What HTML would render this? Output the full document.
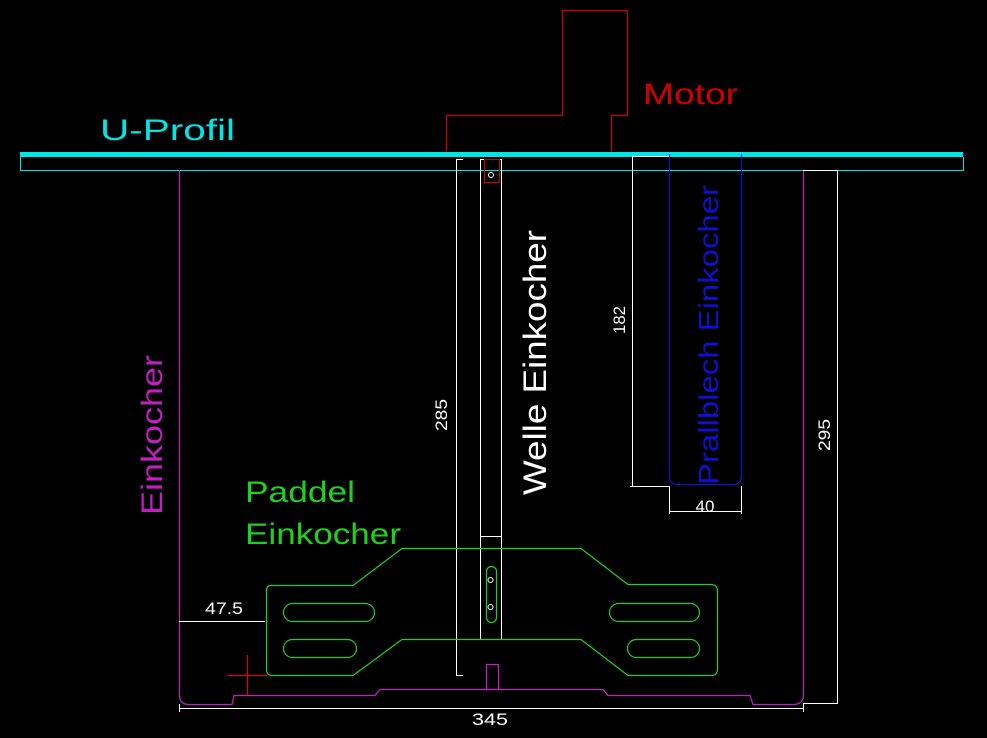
<!DOCTYPE html>
<html><head><meta charset="utf-8"><style>html,body{margin:0;padding:0;background:#000}svg{display:block}</style></head>
<body>
<svg width="987" height="738" viewBox="0 0 987 738" xmlns="http://www.w3.org/2000/svg" font-family="Liberation Sans, sans-serif" fill="none">
<rect width="987" height="738" fill="#000"/>
<!-- Motor -->
<path d="M562.5 10.5H627.5V115.5H611.5V153H446.5V115.5H562.5Z" stroke="#d00000" stroke-width="1.2"/>
<text x="643" y="104" font-size="30" fill="#d00000" textLength="95" lengthAdjust="spacingAndGlyphs">Motor</text>
<!-- U-Profil -->
<rect x="20" y="152" width="943" height="5" fill="#00e5e5"/>
<path d="M20.5 157V170.5H963.5V157" stroke="#00e5e5"/>
<text x="100" y="140" font-size="30" fill="#00e5e5" textLength="135" lengthAdjust="spacingAndGlyphs">U-Profil</text>
<!-- Einkocher body -->
<path d="M179.5 170V695Q179.5 704 188 704.5H232L234 695.5H375L380 689.5H603L608 695.5H750L753 704.5H794Q803.5 704 803.5 695V170" stroke="#c020c0" stroke-width="1.2"/>
<rect x="486.5" y="664.5" width="12" height="25" stroke="#c020c0" stroke-width="1.2"/>
<text transform="translate(162,515) rotate(-90)" font-size="30" fill="#c020c0" textLength="160" lengthAdjust="spacingAndGlyphs">Einkocher</text>
<!-- Dimensions white -->
<g stroke="#fff" stroke-width="1">
<path d="M179.5 704V712M803.5 704V712M179 708.5H803"/>
<path d="M179 621.5H265"/>
<path d="M456.5 159V675M456 159.5H463M456 675.5H463"/>
<path d="M803 170.5H837M803 703.5H837M837.5 170V704"/>
<path d="M632.5 156V486M632 156.5H669M630 486.5H669"/>
<path d="M669.5 486V514M741.5 486V514M669 511.5H741"/>
<rect x="480.5" y="159.5" width="21" height="480"/>
<path d="M480 536.5H502"/>
</g>
<g fill="#fff" font-size="17">
<text x="490" y="725" text-anchor="middle" textLength="36" lengthAdjust="spacingAndGlyphs">345</text>
<text x="224" y="614" text-anchor="middle" textLength="38" lengthAdjust="spacingAndGlyphs">47.5</text>
<text x="705" y="512" text-anchor="middle">40</text>
<text transform="translate(447,415) rotate(-90)" text-anchor="middle" textLength="32" lengthAdjust="spacingAndGlyphs">285</text>
<text transform="translate(625,320) rotate(-90)" text-anchor="middle" textLength="28" lengthAdjust="spacingAndGlyphs">182</text>
<text transform="translate(830,435) rotate(-90)" text-anchor="middle" textLength="32" lengthAdjust="spacingAndGlyphs">295</text>
<text transform="translate(546,495) rotate(-90)" font-size="32" textLength="265" lengthAdjust="spacingAndGlyphs">Welle Einkocher</text>
</g>
<!-- red shaft top -->
<rect x="484.5" y="159.5" width="15" height="23" stroke="#d00000"/>
<circle cx="491" cy="175" r="2.5" stroke="#fff"/>
<!-- red cross -->
<path d="M227 675.5H267M247.5 655V695" stroke="#e00000" stroke-width="1.2"/>
<!-- Prallblech -->
<path d="M669.5 154V476Q669.5 484.5 678 484.5H732Q741.5 484.5 741.5 476V154" stroke="#1010d0" stroke-width="1.2"/>
<text transform="translate(718,485) rotate(-90)" font-size="28" fill="#1010d0" textLength="300" lengthAdjust="spacingAndGlyphs">Prallblech Einkocher</text>
<!-- Paddle -->
<g stroke="#20d020" stroke-width="1.2">
<path d="M271 585.5H353L402 548.5H581L628 584.5H711Q717.5 585 717.5 591V669Q717.5 675.5 711 675.5H628L581 639.5H402L353 675.5H272Q266.5 675.5 266.5 669V591Q266.5 585.5 271 585.5Z"/>
<rect x="283.5" y="603.5" width="91" height="18" rx="9"/>
<rect x="283.5" y="639.5" width="73" height="18" rx="9"/>
<rect x="609.5" y="603.5" width="90" height="18" rx="9"/>
<rect x="627.5" y="639.5" width="72" height="18" rx="9"/>
<rect x="486.5" y="566.5" width="10" height="56" rx="5"/>
</g>
<circle cx="490.5" cy="580" r="2.5" stroke="#fff"/>
<circle cx="490.5" cy="607" r="2.5" stroke="#fff"/>
<g fill="#20d020" font-size="30">
<text x="245" y="502" textLength="110" lengthAdjust="spacingAndGlyphs">Paddel</text>
<text x="245" y="544" textLength="156" lengthAdjust="spacingAndGlyphs">Einkocher</text>
</g>
</svg>
</body></html>
